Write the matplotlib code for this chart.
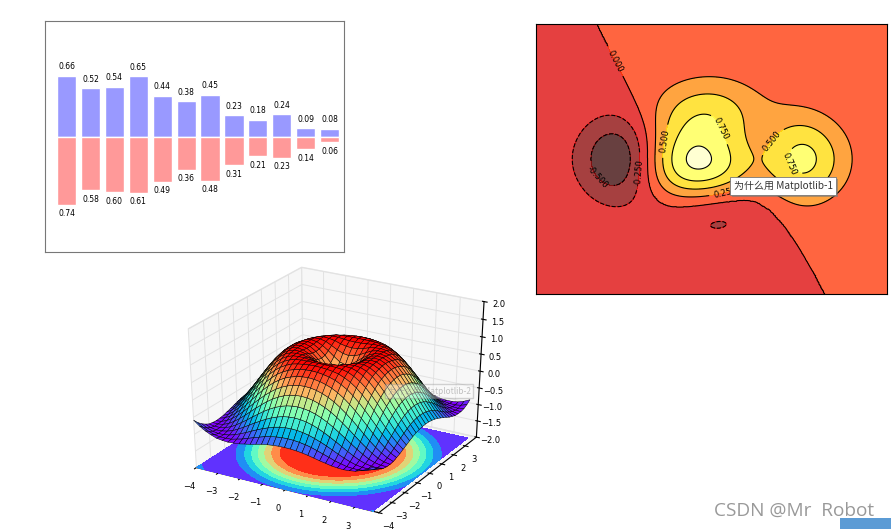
# Bars, contour map and 3D surface on one canvas
import numpy as np
import matplotlib
matplotlib.use('Agg')
import matplotlib.pyplot as plt
from matplotlib.patches import Rectangle
from mpl_toolkits.mplot3d import Axes3D

W, H = 891, 529

# bar values
up_values = [0.66, 0.52, 0.54, 0.65, 0.44, 0.38, 0.45, 0.23, 0.18, 0.24, 0.09, 0.08]
down_values = [0.74, 0.58, 0.60, 0.61, 0.49, 0.36, 0.48, 0.31, 0.21, 0.23, 0.14, 0.06]

# contour map heights, estimated on a coarse grid from y=-3 to y=3
grid_start, grid_stop = -3, 3
heights = [
    [-0.000004, -0.000029, -0.00013, -0.00043, -0.0012, -0.00248, -0.00321, -0.00252, -0.00116, -0.00025, 0.000011, 0.000017, 0.000003],
    [-0.00006, -0.0004, -0.0016, -0.0044, -0.0107, -0.0217, -0.0282, -0.0223, -0.0100, -0.0016, 0.0006, 0.0003, 0.00005],
    [-0.0006, -0.0037, -0.0127, -0.0267, -0.0505, -0.0967, -0.1282, -0.1030, -0.0438, -0.0003, 0.0081, 0.0032, 0.0005],
    [-0.0032, -0.0201, -0.0644, -0.1024, -0.1115, -0.1770, -0.2503, -0.2129, -0.0727, 0.0496, 0.0553, 0.0191, 0.0031],
    [-0.0110, -0.0685, -0.2089, -0.2654, -0.0677, 0.0627, 0.0, -0.0627, 0.0677, 0.2654, 0.2089, 0.0685, 0.0110],
    [-0.0231, -0.1436, -0.4297, -0.4900, 0.1074, 0.6634, 0.6815, 0.3980, 0.3940, 0.6336, 0.4547, 0.1463, 0.0233],
    [-0.0297, -0.1842, -0.5495, -0.6160, 0.1839, 0.9492, 1.0, 0.6084, 0.5518, 0.8268, 0.5861, 0.1880, 0.0299],
    [-0.0231, -0.1433, -0.4261, -0.4694, 0.1791, 0.8150, 0.8761, 0.5497, 0.4656, 0.6541, 0.4582, 0.1466, 0.0233],
    [-0.0109, -0.0670, -0.1954, -0.1878, 0.2030, 0.6357, 0.7358, 0.5104, 0.3384, 0.3429, 0.2224, 0.0699, 0.0111],
    [-0.0031, -0.0187, -0.0514, -0.0274, 0.1503, 0.3771, 0.4611, 0.3412, 0.1890, 0.1246, 0.0683, 0.0205, 0.0032],
    [-0.0005, -0.0031, -0.0074, 0.0042, 0.0573, 0.1315, 0.1648, 0.1253, 0.0640, 0.0306, 0.0134, 0.0037, 0.0006],
    [-0.00005, -0.0003, -0.0005, 0.0020, 0.0115, 0.0253, 0.0321, 0.0247, 0.0122, 0.0048, 0.0017, 0.0004, 0.00006],
    [-0.000003, -0.000016, -0.000007, 0.000275, 0.00125, 0.00271, 0.00346, 0.00267, 0.00129, 0.00045, 0.00013, 0.00003, 0.000004],
]
# where the map crosses zero: y of the 0.000 line at each x
zero_line_x = [-2.0, -1.75, -1.5, -1.35, -1.25, -1.2, -1.15, -1.12, -1.10, -1.09, -1.08, -1.05, -1.0,
               -0.9, -0.75, -0.56, -0.25, 0, 0.25, 0.56, 0.75, 1.0, 1.25, 1.5, 1.75, 2.0]
zero_line_y = [3.11, 2.44, 1.80, 1.41, 1.13, 0.96, 0.76, 0.59, 0.39, -0.19, -0.41, -0.63, -0.79,
               -0.95, -1.04, -1.07, -1.04, -1.0, -0.96, -0.92, -0.95, -1.15, -1.51, -1.99, -2.55, -3.17]
contour_levels = [-0.75, -0.5, -0.25, 0, 0.25, 0.5, 0.75, 1.0, 1.25]
line_levels = [-0.75, -0.5, -0.25, 0, 0.25, 0.5, 0.75, 1.0]

# surface height against distance from the centre
radius = [0, 0.25, 0.5, 0.75, 1, 1.25, 1.5, 1.75, 2, 2.25, 2.5, 2.75, 3, 3.25,
          3.5, 3.75, 4, 4.25, 4.5, 4.75, 5, 5.25, 5.5, 5.75]
surface_height = [0, 0.247, 0.479, 0.682, 0.841, 0.949, 0.997, 0.984, 0.909, 0.778,
                  0.599, 0.382, 0.141, -0.108, -0.351, -0.572, -0.757, -0.895,
                  -0.978, -0.999, -0.959, -0.859, -0.706, -0.508]


def box(left, top, right, bottom):
    # pixel box to figure fractions
    return [left / W, 1 - bottom / H, (right - left) / W, (bottom - top) / H]


def smooth_grid(table, scale):
    # fourier upsampling of the coarse table, last row/column wraps round
    coarse = np.array(table)[:-1, :-1]
    size = coarse.shape[0]
    pad = size * (scale - 1) // 2
    spec = np.pad(np.fft.fftshift(np.fft.fft2(coarse)), pad)
    fine = np.fft.ifft2(np.fft.ifftshift(spec)).real * scale ** 2
    return np.pad(fine, ((0, 1), (0, 1)), mode='wrap')


cjk = ['Noto Sans CJK SC', 'DejaVu Sans']
fig = plt.figure(figsize=(W / 100, H / 100), dpi=100)

# bars
ax1 = fig.add_axes(box(45, 21, 344, 252))
n = len(up_values)
X = np.arange(n)
ax1.bar(X, up_values, width=0.8, align='edge', facecolor='#9999ff', edgecolor='white')
ax1.bar(X, [-v for v in down_values], width=0.8, align='edge', facecolor='#ff9999', edgecolor='white')
for x, y in zip(X, up_values):
    ax1.text(x + 0.4, y + 0.05, '%.2f' % y, ha='center', va='bottom', fontsize=5.5)
for x, y in zip(X, down_values):
    ax1.text(x + 0.4, -y - 0.05, '%.2f' % y, ha='center', va='top', fontsize=5.5)
ax1.set_xlim(-0.5, 12)
ax1.set_ylim(-1.25, 1.25)
ax1.set_xticks([])
ax1.set_yticks([])
for s in ax1.spines.values():
    s.set_color('#777777')

# contour map
ax2 = fig.add_axes(box(536, 24, 887, 294))
fine_z = smooth_grid(heights, 32)
fine_x = np.linspace(grid_start, grid_stop, fine_z.shape[0])
FX, FY = np.meshgrid(fine_x, fine_x)
# the flat outer part is too small to trust, so the sign comes from the read zero line
above = FY > np.interp(FX, zero_line_x, zero_line_y)
fine_z = np.abs(fine_z) * np.where(above, 1, -1)
ax2.contourf(FX, FY, fine_z, levels=contour_levels, cmap='hot', alpha=0.75)
cs = ax2.contour(FX, FY, fine_z, levels=line_levels, colors='black', linewidths=0.8)
ax2.clabel(cs, inline=True, fontsize=6, fmt='%.3f',
           manual=[(-1.61, 2.2), (-1.93, -0.4), (-1.25, -0.29), (-0.82, 0.4),
                   (0.19, 0.69), (1.01, 0.42), (1.34, -0.11), (0.24, -0.73)])
ax2.set_xlim(-3, 3)
ax2.set_ylim(-3, 3)
ax2.set_xticks([])
ax2.set_yticks([])

# 3D surface, stretched to fill its box
ax3 = fig.add_axes(box(157, 256, 511, 522), projection='3d')
ax3.apply_aspect = lambda position=None: None
ax3.patch.set_visible(False)
sx = np.arange(-4, 4, 0.25)
sy = np.arange(-4, 4, 0.25)
SX, SY = np.meshgrid(sx, sy)
SZ = np.interp(np.sqrt(SX ** 2 + SY ** 2), radius, surface_height)
ax3.plot_surface(SX, SY, SZ, rstride=1, cstride=1, cmap='rainbow', edgecolor='black', linewidth=0.35)
ax3.contourf(SX, SY, SZ, zdir='z', offset=-2, cmap='rainbow')
ax3.set_zlim(-2, 2)
ax3.set_xlim(-4, 4)
ax3.set_ylim(-4, 4)
ax3.set_box_aspect((1, 1, 1), zoom=1.0)
ax3.tick_params(labelsize=6, pad=0)
ax3.tick_params(axis='z', pad=-2)
ax3.tick_params(axis='y', pad=-2)
ax3.set_xticks(np.arange(-4, 4))
ax3.set_yticks(np.arange(-4, 4))
ax3.set_zticks(np.arange(-2, 2.5, 0.5))
for axis in (ax3.xaxis, ax3.yaxis, ax3.zaxis):
    axis.set_pane_color((0.95, 0.95, 0.95, 0.6))
    axis.pane.set_edgecolor('#dddddd')
    axis._axinfo['grid']['color'] = '#e2e2e2'
    axis._axinfo['grid']['linewidth'] = 0.7

# floating captions
fig.add_artist(Rectangle((732 / W, 1 - 197 / H), 106 / W, 18 / H, facecolor='#777777',
                         edgecolor='none', alpha=0.6, transform=fig.transFigure))
fig.text(783 / W, 1 - 186 / H, '为什么用 Matplotlib-1', family=cjk, fontsize=7.2, color='#333333',
         ha='center', va='center',
         bbox=dict(boxstyle='square,pad=0.35', facecolor='white', edgecolor='#777777', linewidth=0.6))
fig.text(429 / W, 1 - 391 / H, '为什么用 Matplotlib-2', family=cjk, fontsize=6, color='#888888', alpha=0.5,
         ha='center', va='center',
         bbox=dict(boxstyle='square,pad=0.3', facecolor='white', edgecolor='#888888', alpha=0.35))

# watermark and page corner
fig.add_artist(Rectangle((840 / W, 0), 51 / W, 11 / H, facecolor='#5b9bd5', edgecolor='none',
                         transform=fig.transFigure))
fig.text(714 / W, 1 - 511 / H, 'CSDN @Mr  Robot', family='Open Sans', fontsize=13.7, color='#999999',
         ha='left', va='center')

fig.savefig('out.png', dpi=100)
